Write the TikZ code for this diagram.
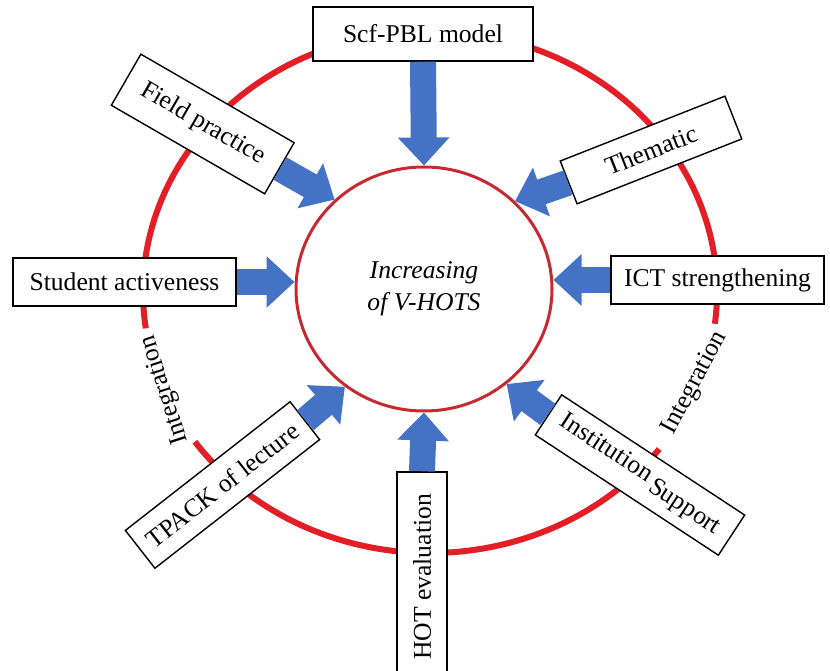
\documentclass[tikz,border=0pt]{standalone}
\usepackage{fontspec}
\setmainfont{Liberation Serif}
\usetikzlibrary{positioning,shapes.geometric,arrows.meta}
\definecolor{ring_red}{HTML}{E41E26}
\definecolor{goal_red}{HTML}{C62A30}
\definecolor{push_blue}{HTML}{4472C4}
\newcommand{\labelfont}{\fontsize{12.8}{16}\selectfont}
\tikzset{
  factor/.style={rectangle, draw=black, fill=white, line width=0.7pt,
                 minimum height=24pt, inner sep=2pt, font=\labelfont},
  goal/.style={ellipse, draw=goal_red, line width=1.5pt, minimum width=128pt,
               minimum height=122pt, inner sep=0pt, align=center,
               font=\labelfont\itshape},
  push/.style={-{Triangle[width=25pt,length=14pt]}, draw=push_blue,
               line width=13pt},
  ringline/.style={draw=ring_red, line width=3pt},
  ringarc/.style={x radius=143.5pt, y radius=130.5pt},
  tag/.style={font=\labelfont, inner sep=1pt},
}

\begin{document}
\begin{tikzpicture}[x=0.5pt,y=0.5pt]
  \useasboundingbox (0,0) rectangle (830,670);

  % --- outer ring, open where the two integration labels sit --------------
  \coordinate (ring) at (430,378);
  \draw[ringline] ([shift={(-7:143.5pt and 130.5pt)}]ring)
    arc[ringarc, start angle=-7, end angle=188];
  \draw[ringline] ([shift={(215:143.5pt and 130.5pt)}]ring)
    arc[ringarc, start angle=215, end angle=323];
  \node[tag, rotate=108] (integ-l) at (165,280) {Integration};
  \node[tag, rotate=62] (integ-r) at (695,287) {Integration};

  % --- goal ----------------------------------------------------------------
  \node[goal] (hots) at (424,381) {Increasing\\of V-HOTS};

  % --- factors -------------------------------------------------------------
  \node[factor, minimum width=110pt, minimum height=27pt] (scf) at (423,636) {Scf-PBL model};
  \node[factor, minimum width=111.5pt] (student) at (124.5,388) {Student activeness};
  \node[factor, minimum width=106.5pt] (ict) at (717.5,390) {ICT strengthening};
  \node[factor, minimum width=88.5pt, minimum height=29.5pt, rotate=-30] (field) at (202.75,546) {Field practice};
  \node[factor, minimum width=88.5pt, minimum height=23pt, rotate=21.5] (thematic) at (651,520) {Thematic};
  \node[factor, minimum width=104.5pt, rotate=38] (tpack) at (222.5,185) {TPACK of lecture};
  \node[factor, minimum width=105pt, minimum height=25pt, rotate=90] (hot) at (422,93) {HOT evaluation};
  \node[factor, minimum width=109.5pt, rotate=-33.3] (inst) at (640,195)
    {Institution\,\raisebox{-3pt}{Support}};

  % --- arrows into the goal ------------------------------------------------
  \draw[push] (scf.south) -- (hots.north);
  \draw[push] (student.east) -- (student.east -| hots.west);
  \draw[push] (ict.west) -- (ict.west -| hots.east);
  \draw[push] (field.east) -- (hots.135);
  \draw[push] (thematic.west) -- (hots.44);
  \draw[push] (tpack.east) -- (hots.231);
  \draw[push] (hot.east) -- (hots.south);
  \draw[push] (inst.west) -- (hots.311);

\end{tikzpicture}
\end{document}
